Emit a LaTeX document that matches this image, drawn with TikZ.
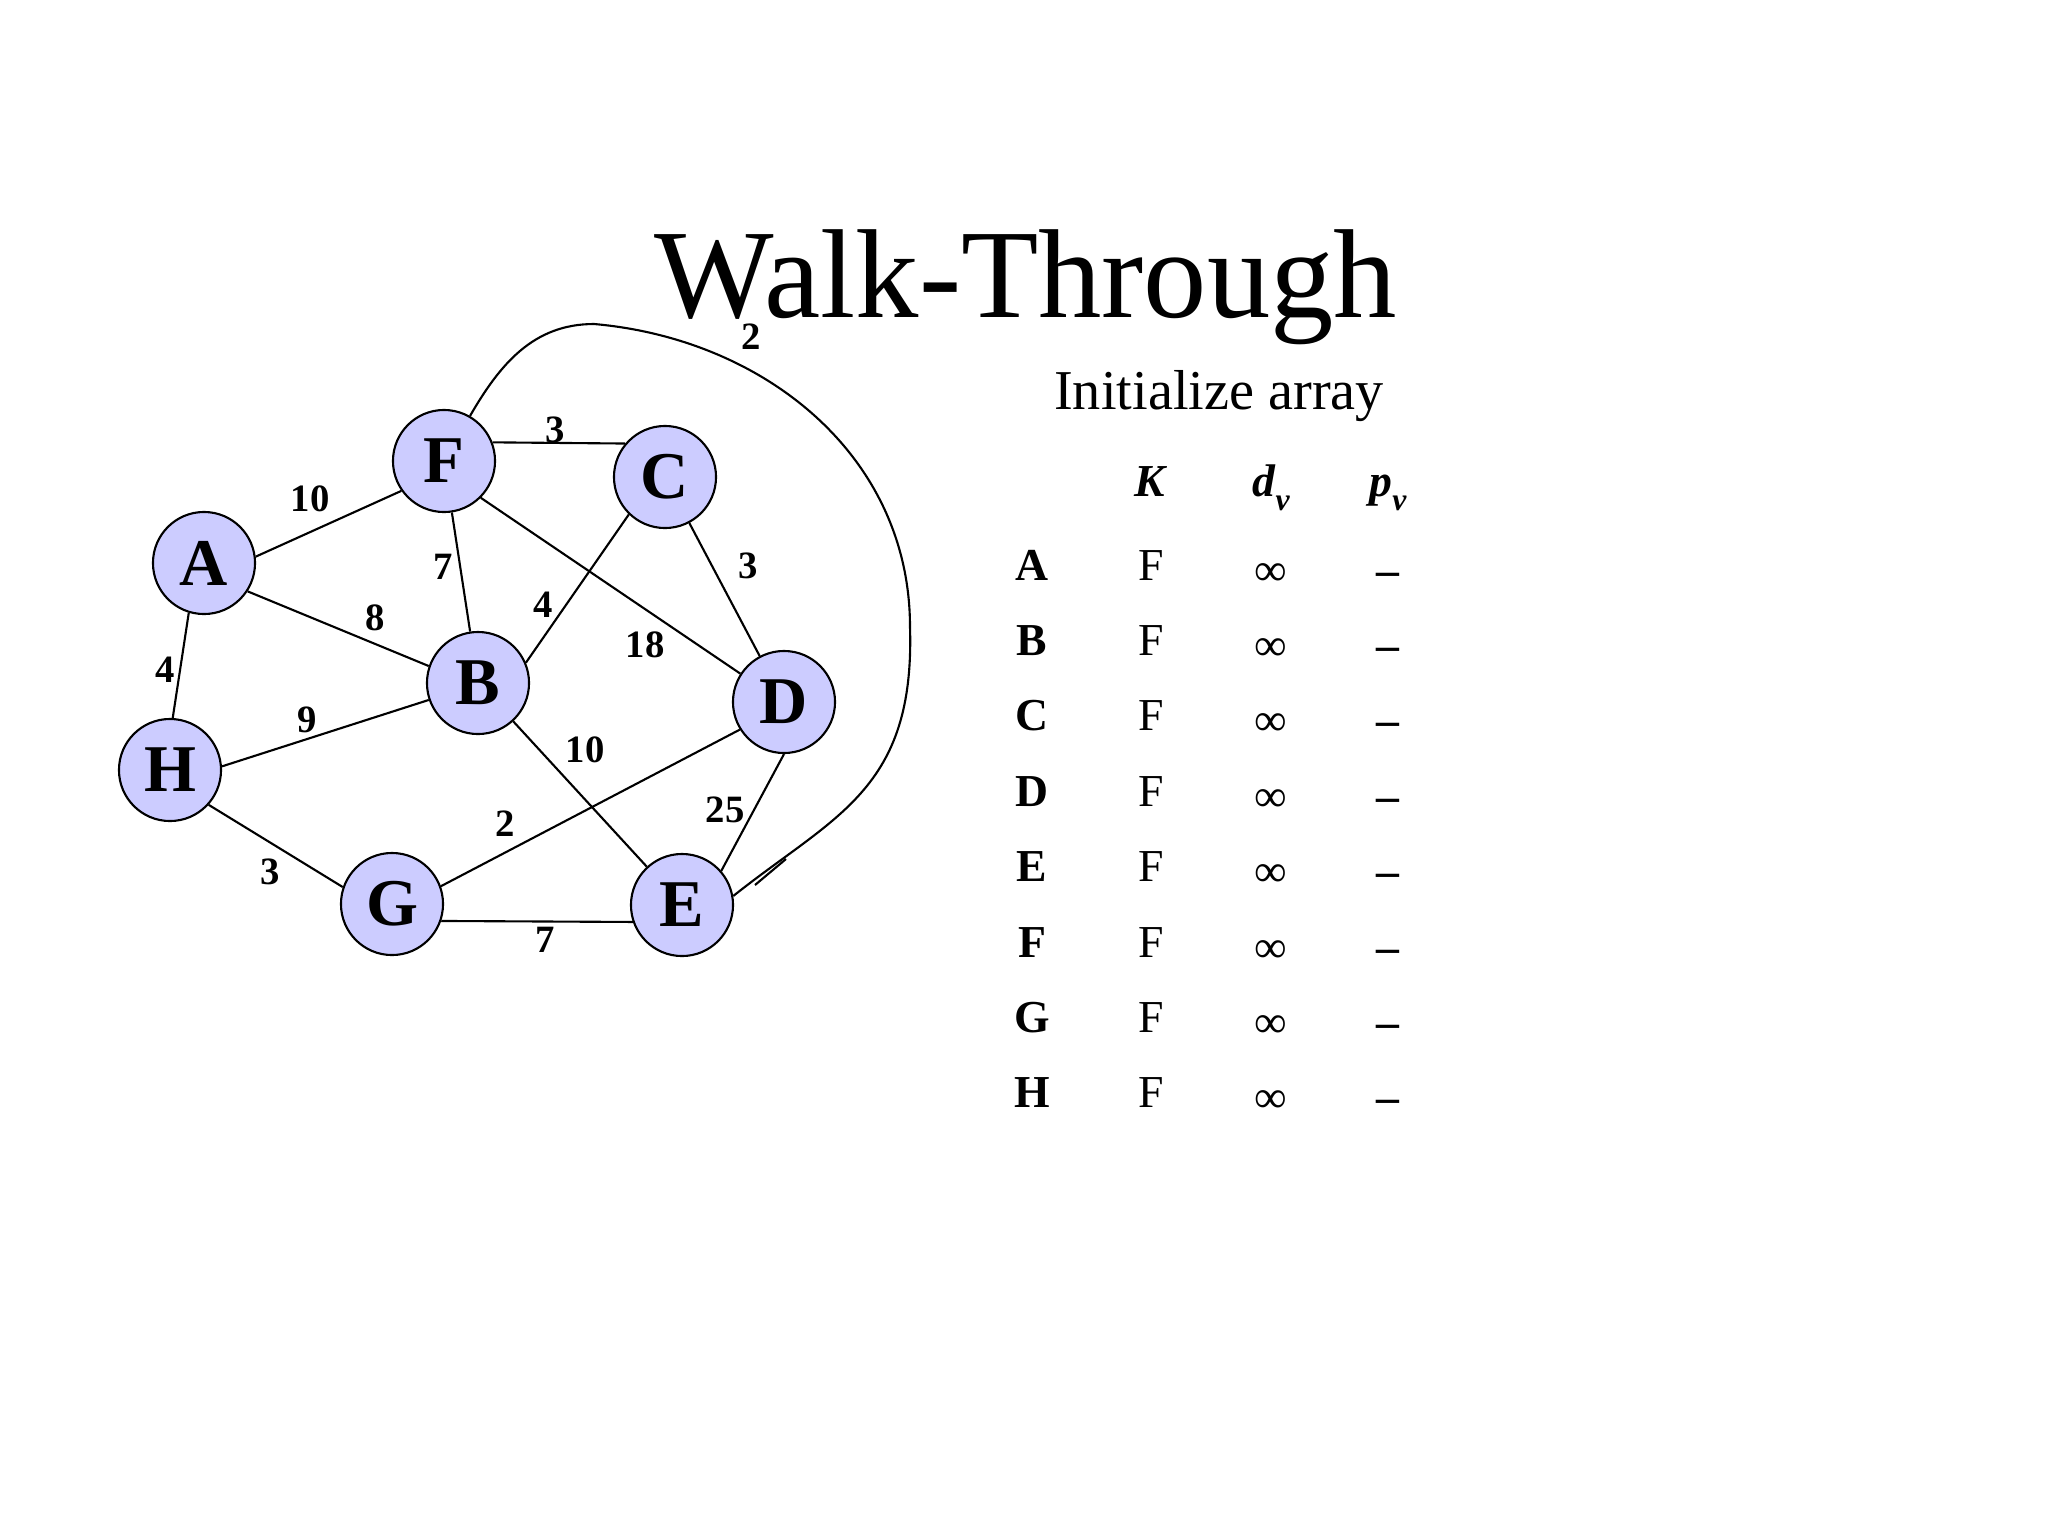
\documentclass[tikz,border=0pt]{standalone}
\usepackage{fontspec}
\setmainfont{Liberation Serif}
\usepackage{tikz}
\definecolor{vertexlilac}{RGB}{204, 204, 255}

\begin{document}
\begin{tikzpicture}[x=0.01cm, y=0.01cm,
  vertex/.style={draw, circle, fill=vertexlilac, line width=0.6pt, minimum size=1.02cm, inner sep=0pt, font=\fontsize{19}{19}\selectfont\bfseries},
  weight/.style={inner sep=1pt, font=\fontsize{11}{11}\selectfont\bfseries},
  edgeline/.style={line width=0.6pt},
  cell/.style={anchor=base, inner sep=0pt, font=\fontsize{13}{13}\selectfont}]
\fill[white] (0,-1536) rectangle (2048,0);
\useasboundingbox (0,-1536) rectangle (2048,0);

% Title
\node[anchor=base, inner sep=0pt, font=\fontsize{36}{36}\selectfont] (title) at (1026,-317) {Walk-Through};
\node[anchor=base, inner sep=0pt, font=\fontsize{16}{16}\selectfont] (subtitle) at (1219,-409) {Initialize array};

% Vertices of the graph
\node[vertex] (A) at (204,-563) {A};
\node[vertex] (F) at (444,-461) {F};
\node[vertex] (C) at (665,-477) {C};
\node[vertex] (B) at (478,-683) {B};
\node[vertex] (D) at (784,-702) {D};
\node[vertex] (H) at (170,-770) {H};
\node[vertex] (G) at (392,-904) {G};
\node[vertex] (E) at (682,-905) {E};

% Weighted edges
\draw[edgeline] (A.7) -- (F.215);
\draw[edgeline] (F.21) -- (C.140);
\draw[edgeline] (F) -- (B);
\draw[edgeline] (F.-45) -- (D.147);
\draw[edgeline] (B.23) -- (C.226);
\draw[edgeline] (C) -- (D);
\draw[edgeline] (A.-33) -- (B.161);
\draw[edgeline] (A.253) -- (H.87);
\draw[edgeline] (H.4) -- (B.199);
\draw[edgeline] (B) -- (E);
\draw[edgeline] (G.20) -- (D.212);
\draw[edgeline] (D.-90) -- (E.41);
\draw[edgeline] (H.-42) -- (G.161);
\draw[edgeline] (G.-19) -- (E.199);
\coordinate (archtop) at (594,-324);
\coordinate (archside) at (910,-627);
\draw[edgeline] (F.60) to[out=60, in=180] (archtop) to[out=-5, in=90] (archside)
  .. controls (915,-790) and (835,-815) .. (E.10);
% small doubled stroke near E
\coordinate (tickfrom) at (755,-885);
\coordinate (tickto) at (786,-859);
\draw[edgeline] (tickfrom) -- (tickto);

% Weights
\node[weight] (wAF) at (310,-499) {10};
\node[weight] (wFC) at (555,-430) {3};
\node[weight] (wFB) at (443,-567) {7};
\node[weight] (wFD) at (645,-645) {18};
\node[weight] (wCB) at (543,-605) {4};
\node[weight] (wCD) at (748,-566) {3};
\node[weight] (wAB) at (375,-618) {8};
\node[weight] (wAH) at (165,-670) {4};
\node[weight] (wHB) at (307,-720) {9};
\node[weight] (wBE) at (585,-750) {10};
\node[weight] (wDG) at (505,-824) {2};
\node[weight] (wDE) at (725,-810) {25};
\node[weight] (wHG) at (270,-872) {3};
\node[weight] (wGE) at (545,-940) {7};
\node[weight, inner sep=0pt] (wFE) at (751,-337) {2};

% Table of the array
\node[cell] (headK) at (1151,-496) {\textbf{\textit{K}}};
\node[cell] (headd) at (1271,-496) {\textbf{\textit{d}}\raisebox{-4pt}{\fontsize{9}{9}\selectfont\textbf{\textit{v}}}};
\node[cell] (headp) at (1388,-496) {\textbf{\textit{p}}\raisebox{-4pt}{\fontsize{9}{9}\selectfont\textbf{\textit{v}}}};
\foreach \v [count=\i from 0] in {A,B,C,D,E,F,G,H} {
  \node[cell] (row\v) at (1032,-580-75.4*\i) {\textbf{\v}};
  \node[cell] (known\v) at (1151,-580-75.4*\i) {F};
  \node[cell] (dist\v) at (1271,-585-75.4*\i) {∞};
  \node[cell] (prev\v) at (1388,-585-75.4*\i) {\textbf{–}};
}
\end{tikzpicture}
\end{document}
